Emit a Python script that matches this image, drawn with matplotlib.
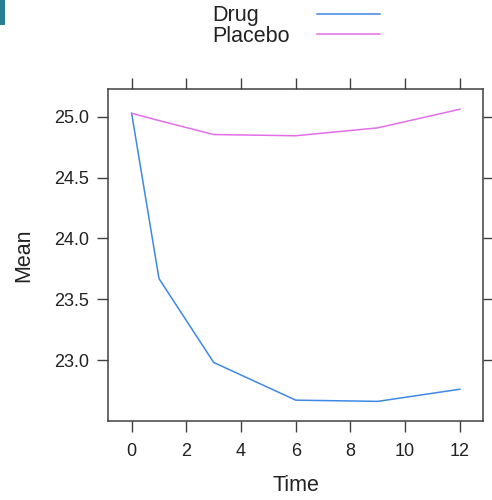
import matplotlib
matplotlib.use("Agg")
import matplotlib.pyplot as plt
from matplotlib.lines import Line2D
from matplotlib.patches import Rectangle

# Mean response over time by treatment group
time_drug = [0, 1, 3, 6, 9, 12]
mean_drug = [25.03, 23.67, 22.98, 22.67, 22.66, 22.76]
time_placebo = [0, 1, 3, 6, 9, 12]
mean_placebo = [25.03, 24.97, 24.855, 24.845, 24.91, 25.063]
group_names = ["Drug", "Placebo"]
group_colors = ["#3f88e6", "#e36fe8"]
x_ticks = [0, 2, 4, 6, 8, 10, 12]
y_ticks = [23.0, 23.5, 24.0, 24.5, 25.0]

plt.rcParams["font.family"] = ["Liberation Sans", "DejaVu Sans"]

fig = plt.figure(figsize=(4.92, 5.0), dpi=100)
ax = fig.add_axes([0.220, 0.1586, 0.762, 0.663])

ax.plot(time_drug, mean_drug, color=group_colors[0], lw=1.1)
ax.plot(time_placebo, mean_placebo, color=group_colors[1], lw=1.1)

ax.set_xlim(-0.855, 12.85)
ax.set_ylim(22.501, 25.228)
ax.set_xticks(x_ticks)
ax.set_yticks(y_ticks)
ax.set_yticklabels([f"{v:.1f}" for v in y_ticks])

edge = "#404040"
for sp in ax.spines.values():
    sp.set_color(edge)
    sp.set_linewidth(1.1)
ax.tick_params(axis="both", which="both", direction="out", length=8, width=1.0,
               color=edge, labelsize=13, labelcolor="#222222",
               top=True, right=True, labeltop=False, labelright=False)
ax.tick_params(axis="x", pad=8)
ax.tick_params(axis="y", pad=6)

ax.set_xlabel("Time", fontsize=15.5, color="#222222", labelpad=11)
ax.set_ylabel("Mean", fontsize=15.5, color="#222222", labelpad=14)

# key above the panel
for i, (name, col) in enumerate(zip(group_names, group_colors)):
    y_txt = 1 - (16 + 21 * i) / 500
    y_ln = 1 - (14 + 20 * i) / 500
    fig.text(212 / 492, y_txt, name, fontsize=15.5, color="#222222", va="center", ha="left")
    fig.add_artist(Line2D([317 / 492, 380 / 492], [y_ln, y_ln], color=col, lw=1.1,
                          transform=fig.transFigure))

# small accent bar at the top-left edge
fig.add_artist(Rectangle((0, 1 - 25 / 500), 5 / 492, 25 / 500, transform=fig.transFigure,
                         color="#2b7d98", lw=0))

fig.savefig("out.png", dpi=100)
